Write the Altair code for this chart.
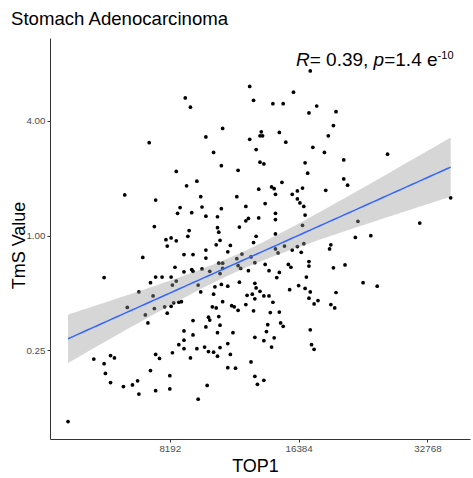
import altair as alt
import numpy as np
import pandas as pd

# log2 of TOP1 and of TmS Value
top1_log2 = [
    14.09, 13.62, 13.96, 13.12, 13.65, 13.80, 13.88, 13.16, 14.14, 14.08,
    14.29, 14.27, 13.41, 13.71, 13.70, 13.72, 13.85, 13.28, 13.62, 14.23,
    12.84, 13.90, 14.11, 13.67, 13.34, 14.20, 14.69, 14.35, 14.05, 13.70,
    13.73, 13.40, 13.53, 13.05, 14.07, 14.35, 14.38, 13.21, 13.13, 13.87,
    13.79, 13.81, 13.69, 14.03, 13.99, 14.21, 12.65, 13.24, 13.82, 13.95,
    13.52, 15.18, 12.89, 13.99, 14.01, 14.04, 13.74, 13.59, 13.08, 13.25,
    13.40, 13.06, 13.17, 13.28, 13.37, 13.61, 13.59, 13.69, 13.82, 13.82,
    14.05, 14.46, 14.94, 12.88, 13.54, 13.37, 14.03, 13.15, 13.38, 13.82,
    13.14, 13.67, 14.44, 14.56, 13.01, 12.97, 13.05, 13.39, 12.98, 13.36,
    13.65, 13.47, 13.89, 14.04, 13.99, 14.25, 14.24, 13.28, 13.82, 13.84,
    13.95, 14.02, 13.45, 13.11, 13.18, 13.56, 12.79, 13.28, 13.52, 13.63,
    14.08, 13.66, 13.38, 13.41, 13.53, 13.74, 13.92, 13.94, 14.08, 14.27,
    14.36, 13.41, 13.55, 13.04, 13.17, 13.11, 13.18, 13.25, 13.31, 13.39,
    13.61, 13.77, 13.85, 13.83, 14.06, 12.49, 12.89, 12.94, 13.01, 13.05,
    12.85, 13.02, 13.22, 13.54, 13.66, 14.50, 13.40, 13.45, 13.35,
    13.67, 14.00, 14.05, 14.61, 13.93, 13.70, 12.76, 13.24, 13.34, 13.60,
    13.64, 13.73, 13.77, 14.09, 14.29, 12.87, 13.66, 14.08, 14.15, 13.41,
    13.03, 13.07, 13.09, 13.80, 13.59, 14.12, 14.25, 14.28, 12.67, 12.88,
    12.96, 13.01, 12.81, 12.98, 12.83, 13.18, 13.30, 13.31, 13.33, 13.36,
    13.48, 13.50, 13.53, 13.65, 13.78, 13.85, 13.38,
    13.11, 13.28, 13.39, 13.37, 13.49, 13.76, 13.86, 13.88, 13.75, 14.09,
    13.18, 13.11, 13.66, 13.73, 13.81, 13.07, 13.11, 13.21, 13.27, 13.45,
    13.39, 13.30, 13.34, 13.79, 14.10, 14.12, 13.02, 12.89, 12.92, 12.54,
    12.57, 12.41, 12.49, 13.16, 13.37, 13.47, 13.63, 12.85, 12.50, 13.00,
    13.45, 13.51, 13.66, 13.73, 12.54, 12.75, 12.64, 12.71, 13.29, 13.68,
    12.76, 12.89, 13.00, 13.22, 12.21,
]
tms_log2 = [
    2.87, 2.60, 2.50, 2.40, 2.36, 2.30, 2.30, 2.24, 2.26, 2.14,
    2.16, 1.92, 1.87, 1.81, 1.74, 1.74, 1.80, 1.72, 1.68, 1.74,
    1.62, 1.63, 1.54, 1.50, 1.45, 1.45, 1.42, 1.32, 1.27, 1.28,
    1.25, 1.22, 1.14, 1.12, 1.09, 0.99, 0.88, 0.95, 0.87, 0.93,
    0.85, 0.82, 0.81, 0.83, 0.78, 0.79, 0.71, 0.68, 0.72, 0.72,
    0.68, 0.66, 0.62, 0.64, 0.57, 0.51, 0.56, 0.51, 0.49, 0.50,
    0.47, 0.39, 0.40, 0.34, 0.33, 0.30, 0.26, 0.31, 0.39, 0.28,
    0.36, 0.25, 0.22, 0.16, 0.15, 0.14, 0.18, 0.09, 0.06, 0.03,
    -0.01, -0.01, -0.03, 0.00, -0.04, -0.07, -0.09, -0.08, -0.18, -0.16,
    -0.12, -0.17, -0.18, -0.14, -0.19, -0.16, -0.23, -0.25, -0.23, -0.30,
    -0.25, -0.29, -0.28, -0.33, -0.33, -0.32, -0.38, -0.39, -0.40, -0.37,
    -0.45, -0.47, -0.48, -0.48, -0.52, -0.50, -0.50, -0.55, -0.53, -0.56,
    -0.51, -0.57, -0.57, -0.55, -0.59, -0.63, -0.62, -0.58, -0.62, -0.66,
    -0.61, -0.61, -0.64, -0.73, -0.72, -0.73, -0.72, -0.72, -0.72, -0.79,
    -0.82, -0.86, -0.86, -0.81, -0.83, -0.82, -0.85, -0.88, -0.89,
    -0.91, -0.87, -0.92, -0.88, -0.94, -0.97, -0.98, -0.98, -1.02, -1.04,
    -1.02, -1.05, -1.05, -0.98, -0.99, -1.05, -1.10, -1.09, -1.13, -1.15,
    -1.17, -1.16, -1.15, -1.16, -1.20, -1.19, -1.20, -1.26, -1.25, -1.27,
    -1.24, -1.23, -1.38, -1.35, -1.52, -1.48, -1.42, -1.47, -1.24, -1.26,
    -1.22, -1.24, -1.30, -1.31, -1.34, -1.33, -1.41,
    -1.66, -1.59, -1.56, -1.69, -1.69, -1.55, -1.52, -1.58, -1.67, -1.64,
    -1.73, -1.82, -1.77, -1.83, -1.78, -1.90, -1.97, -1.97, -1.94, -1.88,
    -1.95, -2.02, -2.03, -1.94, -1.90, -1.98, -2.04, -2.07, -2.14, -2.09,
    -2.13, -2.15, -2.23, -2.13, -2.10, -2.07, -2.20, -2.35, -2.40, -2.44,
    -2.30, -2.31, -2.45, -2.52, -2.56, -2.53, -2.63, -2.60, -2.61, -2.59,
    -2.76, -2.70, -2.67, -2.85, -3.24,
]
assert len(top1_log2) == len(tms_log2)

x_ticks = [8192, 16384, 32768]
y_ticks = [0.25, 1.0, 4.0]
title_text = ["Stomach Adenocarcinoma"]
x_title = "TOP1"
y_title = "TmS Value"

lx = np.array(top1_log2)
ly = np.array(tms_log2)
df = pd.DataFrame({"TOP1": 2.0 ** lx, "TmS": 2.0 ** ly})

# linear fit on log2-log2 scale with 95% confidence band (like geom_smooth(method="lm"))
n = len(lx)
b, a = np.polyfit(lx, ly, 1)
resid = ly - (a + b * lx)
s = np.sqrt((resid ** 2).sum() / (n - 2))
sxx = ((lx - lx.mean()) ** 2).sum()
gx = np.linspace(lx.min(), lx.max(), 80)
fit = a + b * gx
se = s * np.sqrt(1.0 / n + (gx - lx.mean()) ** 2 / sxx)
tq = 1.9695
fit_df = pd.DataFrame({
    "TOP1": 2.0 ** gx,
    "fit": 2.0 ** fit,
    "lo": 2.0 ** (fit - tq * se),
    "hi": 2.0 ** (fit + tq * se),
})

FONT = "Liberation Sans"
xscale = alt.Scale(type="log", base=2, domain=[2 ** 12.07, 2 ** 15.33], nice=False)
yscale = alt.Scale(type="log", base=2, domain=[2 ** -3.543, 2 ** 3.445], nice=False)

xaxis = alt.Axis(
    values=x_ticks, format="d", title=x_title, grid=False,
    domainColor="#333333", domainWidth=1, tickColor="#333333", tickSize=3,
    labelColor="#4d4d4d", labelFont=FONT, labelFontSize=9.8, labelPadding=1.5,
    titleFont=FONT, titleFontSize=18, titleFontWeight="normal", titleColor="black",
    titleX=205, titleY=32, titleAlign="center", titleBaseline="alphabetic",
)
yaxis = alt.Axis(
    values=y_ticks, format=".2f", title=y_title, grid=False,
    domainColor="#333333", domainWidth=1, tickColor="#333333", tickSize=3,
    labelColor="#4d4d4d", labelFont=FONT, labelFontSize=9.8, labelPadding=2,
    titleFont=FONT, titleFontSize=18, titleFontWeight="normal", titleColor="black",
    titleAngle=270, titleX=-26, titleY=207, titleAlign="center", titleBaseline="alphabetic",
)

points = alt.Chart(df).mark_circle(size=14, color="black", opacity=1).encode(
    x=alt.X("TOP1:Q", scale=xscale, axis=xaxis),
    y=alt.Y("TmS:Q", scale=yscale, axis=yaxis),
)

band = alt.Chart(fit_df).mark_area(color="#999999", opacity=0.4).encode(
    x=alt.X("TOP1:Q", scale=xscale),
    y=alt.Y("lo:Q", scale=yscale),
    y2="hi:Q",
)

line = alt.Chart(fit_df).mark_line(color="#3366FF", strokeWidth=1.5).encode(
    x=alt.X("TOP1:Q", scale=xscale),
    y=alt.Y("fit:Q", scale=yscale),
)


def label(text, x, y, size, style="normal"):
    return alt.Chart(pd.DataFrame({"t": [text]})).mark_text(
        align="left", baseline="alphabetic", font=FONT, fontSize=size,
        fontStyle=style, color="black",
    ).encode(text="t:N", x=alt.value(x), y=alt.value(y))


title = label(title_text[0], -39, -13, 18.6)
ann = [
    label("R", 246, 28, 19, "italic"),
    label("= 0.39, ", 259.7, 28, 19),
    label("p", 323.6, 28, 19, "italic"),
    label("=1.4 e", 334.2, 28, 19),
    label("-10", 387.6, 21, 11),
]

chart = alt.layer(points, band, line, title, *ann).properties(
    width=420, height=401,
    autosize=alt.AutoSizeParams(type="none"),
    padding={"left": 50, "top": 38, "right": 3, "bottom": 39},
).configure_view(stroke=None)

chart.save("out.html", embed_options={"renderer": "svg", "actions": False})
